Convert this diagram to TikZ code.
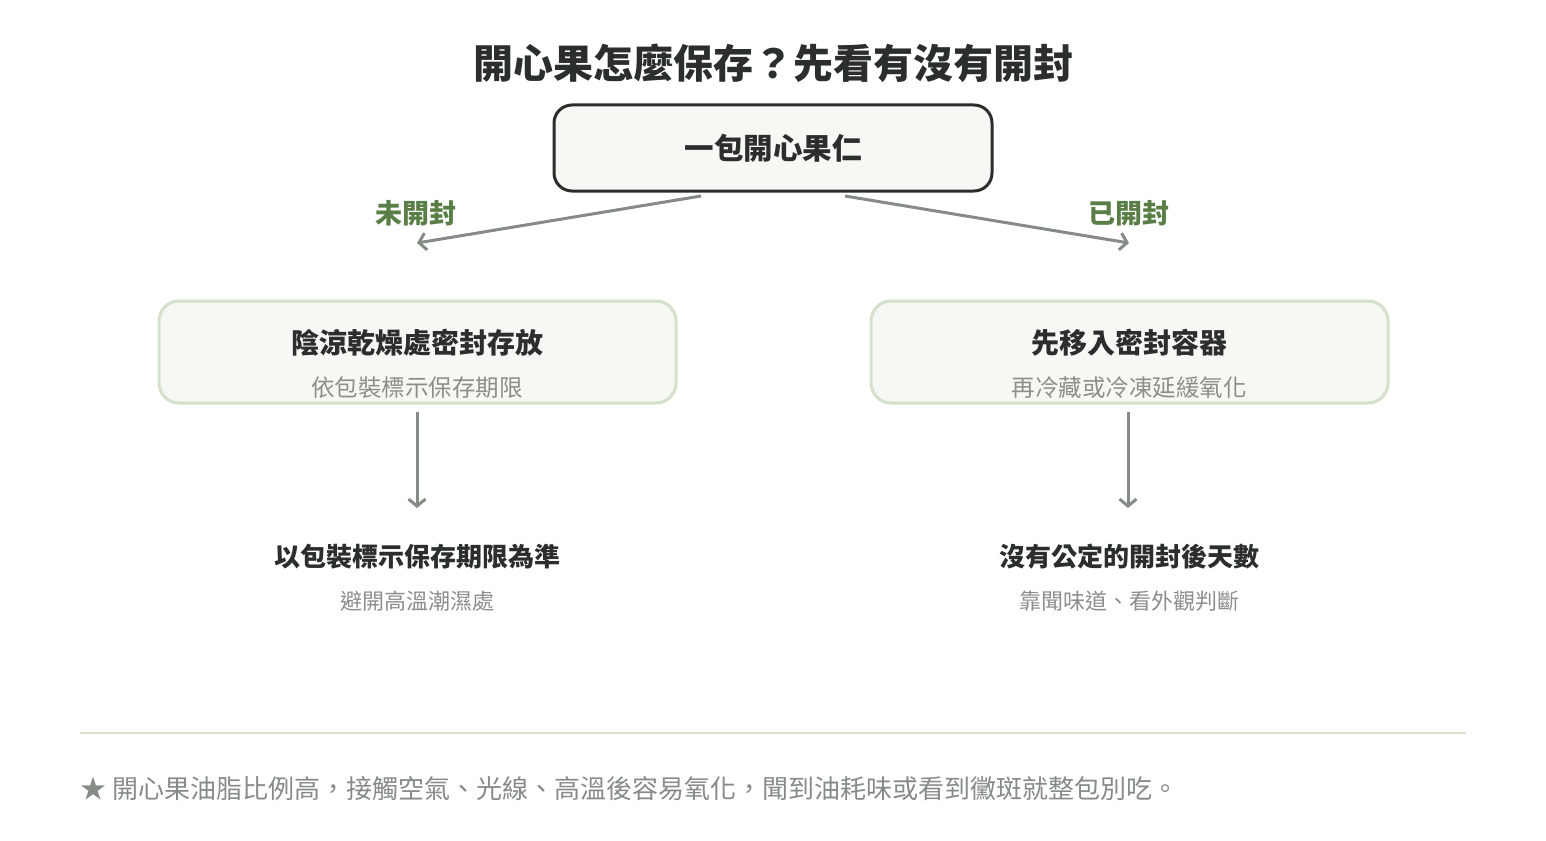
\documentclass[tikz,border=0pt]{standalone}
\usepackage{fontspec}
\setmainfont{Noto Sans CJK TC}
\usetikzlibrary{arrows.meta}
\definecolor{ink}{HTML}{2B2F2B}
\definecolor{leaf}{HTML}{5A7F46}
\definecolor{stem}{HTML}{858B85}
\definecolor{shell}{HTML}{F6F8F3}
\definecolor{rim}{HTML}{D5E0CC}
\definecolor{note}{HTML}{8A8F8A}
\begin{document}
\begin{tikzpicture}[x=1pt, y=-1pt,
  root/.style={draw=ink, line width=3pt, fill=shell, rounded corners=18pt, minimum width=438pt, minimum height=86pt, font=\bfseries\fontsize{29.5}{34}\selectfont, text=ink},
  leafbox/.style={draw=rim, line width=3pt, fill=shell, rounded corners=20pt, minimum width=517pt, minimum height=102pt},
  head/.style={font=\bfseries\fontsize{26}{30}\selectfont, text=ink},
  sub/.style={font=\fontsize{22}{26}\selectfont, text=note},
  tag/.style={font=\bfseries\fontsize{27}{30}\selectfont, text=leaf},
  link/.style={draw=stem, line width=3pt, -{Straight Barb[length=7pt,width=17pt]}}]

\useasboundingbox (0,0) rectangle (1546,840);
\node[font=\bfseries\fontsize{40}{44}\selectfont, text=ink] at (773,63) (t){開心果怎麼保存？先看有沒有開封};

\node[root] at (773,148) (a){一包開心果仁};
\coordinate (al) at (701,196);
\coordinate (ar) at (845,196);
\coordinate (bl) at (417,243);
\coordinate (br) at (1129,243);
\path
    (al) edge[link] (bl)
    (ar) edge[link] (br);
\node[tag] at (416,213) (u){未開封};
\node[tag] at (1129,213) (o){已開封};

\node[leafbox] at (417.5,352) (b){};
\node[head, font=\bfseries\fontsize{28}{30}\selectfont] at (417,343) (b1){陰涼乾燥處密封存放};
\node[sub, font=\fontsize{23.5}{26}\selectfont] at (417,388) (b2){依包裝標示保存期限};
\node[leafbox] at (1129.5,352) (c){};
\node[head, font=\bfseries\fontsize{28}{30}\selectfont] at (1129,343) (c1){先移入密封容器};
\node[sub, font=\fontsize{23.5}{26}\selectfont] at (1129,388) (c2){再冷藏或冷凍延緩氧化};

\node[head] at (417,557) (d1){以包裝標示保存期限為準};
\node[sub] at (417,601) (d2){避開高溫潮濕處};
\node[head] at (1129,557) (e1){沒有公定的開封後天數};
\node[sub] at (1129,601) (e2){靠聞味道、看外觀判斷};
\coordinate (bd) at (417,412);
\coordinate (dd) at (417,508);
\coordinate (cd) at (1128,412);
\coordinate (ed) at (1128,508);
\path
    (bd) edge[link] (dd)
    (cd) edge[link] (ed);

\coordinate (s1) at (80,733);
\coordinate (s2) at (1466,733);
\draw[rim, line width=2pt] (s1) -- (s2);
\node[anchor=west, inner sep=0, font=\fontsize{26}{30}\selectfont, text=stem] at (80,789) (f){★ 開心果油脂比例高，接觸空氣、光線、高溫後容易氧化，聞到油耗味或看到黴斑就整包別吃。};

\end{tikzpicture}
\end{document}
